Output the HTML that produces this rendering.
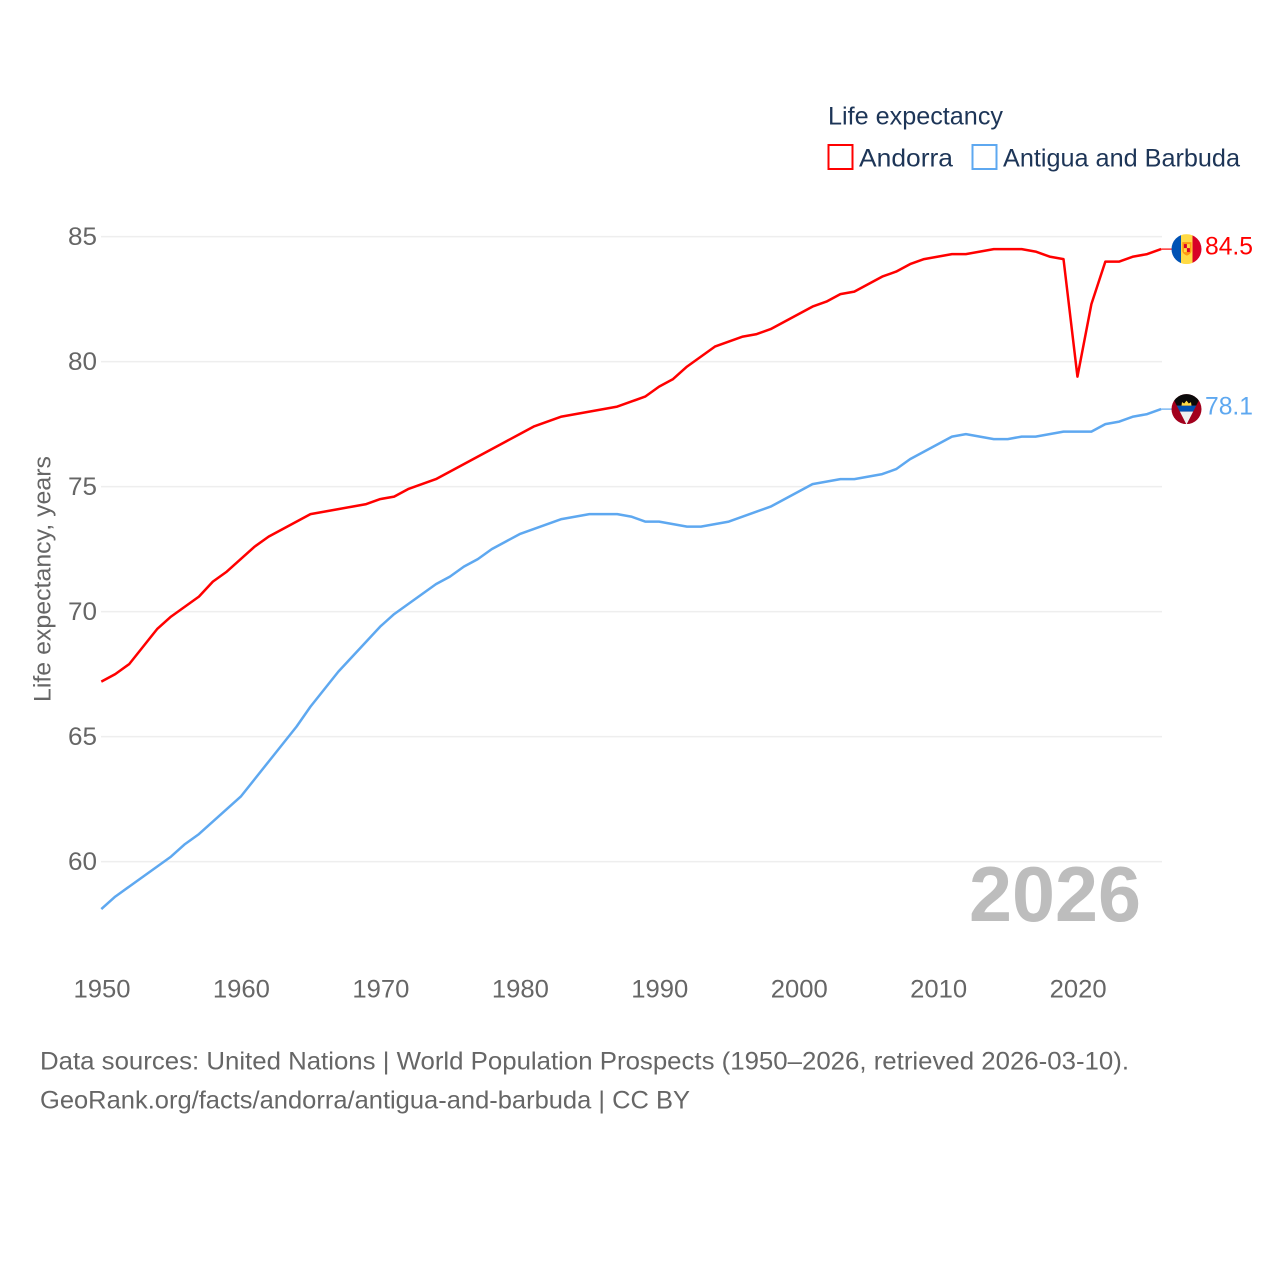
<!DOCTYPE html>
<html lang="en">
<head>
<meta charset="utf-8">
<title>Life expectancy: Andorra and Antigua and Barbuda</title>
<style>
html,body{margin:0;padding:0;background:#fff;}
svg{display:block;font-family:"Liberation Sans",sans-serif;}
</style>
</head>
<body>
<svg id="chart" xmlns="http://www.w3.org/2000/svg" width="1280" height="1280" viewBox="0 0 1280 1280">
  <rect x="0" y="0" width="1280" height="1280" fill="#fff"/>
  <g id="grid"></g>
  <g id="yticks"></g>
  <g id="xticks"></g>
  <text transform="translate(50.5,579) rotate(-90)" text-anchor="middle" font-size="24" fill="#666" textLength="246" lengthAdjust="spacingAndGlyphs">Life expectancy, years</text>
  <text x="969" y="921" font-size="78" font-weight="700" fill="#bdbdbd" textLength="172" lengthAdjust="spacingAndGlyphs">2026</text>
  <g id="series"></g>
  <g id="ends"></g>
  <g>
    <text x="828" y="124.5" font-size="25" fill="#1d3557" textLength="175" lengthAdjust="spacingAndGlyphs">Life expectancy</text>
    <rect x="828.5" y="145" width="24" height="24" fill="#fff" stroke="#ff0000" stroke-width="2"/>
    <text x="859" y="166.5" font-size="25" fill="#1d3557" textLength="94" lengthAdjust="spacingAndGlyphs">Andorra</text>
    <rect x="972.5" y="145" width="24" height="24" fill="#fff" stroke="#5ea8f0" stroke-width="2"/>
    <text x="1003" y="166.5" font-size="25" fill="#1d3557" textLength="237" lengthAdjust="spacingAndGlyphs">Antigua and Barbuda</text>
  </g>
  <text x="40" y="1069.5" font-size="25" fill="#666" textLength="1089" lengthAdjust="spacingAndGlyphs">Data sources: United Nations | World Population Prospects (1950–2026, retrieved 2026-03-10).</text>
  <text x="40" y="1108.5" font-size="25" fill="#666" textLength="650" lengthAdjust="spacingAndGlyphs">GeoRank.org/facts/andorra/antigua-and-barbuda | CC BY</text>
</svg>
<script>
const years = [1950,1951,1952,1953,1954,1955,1956,1957,1958,1959,1960,1961,1962,1963,1964,1965,1966,1967,1968,1969,1970,1971,1972,1973,1974,1975,1976,1977,1978,1979,1980,1981,1982,1983,1984,1985,1986,1987,1988,1989,1990,1991,1992,1993,1994,1995,1996,1997,1998,1999,2000,2001,2002,2003,2004,2005,2006,2007,2008,2009,2010,2011,2012,2013,2014,2015,2016,2017,2018,2019,2020,2021,2022,2023,2024,2025,2026];
const andorra = [67.2,67.5,67.9,68.6,69.3,69.8,70.2,70.6,71.2,71.6,72.1,72.6,73.0,73.3,73.6,73.9,74.0,74.1,74.2,74.3,74.5,74.6,74.9,75.1,75.3,75.6,75.9,76.2,76.5,76.8,77.1,77.4,77.6,77.8,77.9,78.0,78.1,78.2,78.4,78.6,79.0,79.3,79.8,80.2,80.6,80.8,81.0,81.1,81.3,81.6,81.9,82.2,82.4,82.7,82.8,83.1,83.4,83.6,83.9,84.1,84.2,84.3,84.3,84.4,84.5,84.5,84.5,84.4,84.2,84.1,79.4,82.3,84.0,84.0,84.2,84.3,84.5];
const antigua = [58.1,58.6,59.0,59.4,59.8,60.2,60.7,61.1,61.6,62.1,62.6,63.3,64.0,64.7,65.4,66.2,66.9,67.6,68.2,68.8,69.4,69.9,70.3,70.7,71.1,71.4,71.8,72.1,72.5,72.8,73.1,73.3,73.5,73.7,73.8,73.9,73.9,73.9,73.8,73.6,73.6,73.5,73.4,73.4,73.5,73.6,73.8,74.0,74.2,74.5,74.8,75.1,75.2,75.3,75.3,75.4,75.5,75.7,76.1,76.4,76.7,77.0,77.1,77.0,76.9,76.9,77.0,77.0,77.1,77.2,77.2,77.2,77.5,77.6,77.8,77.9,78.1];
const yTickValues = [60,65,70,75,80,85];
const xTickValues = [1950,1960,1970,1980,1990,2000,2010,2020];

const NS = 'http://www.w3.org/2000/svg';
const xScale = function (year) { return 101.3 + (year - 1950) * 13.945; };
const yScale = function (value) { return 236.6 + (85 - value) * 25; };
const make = function (tag, parent, props) {
  const node = document.createElementNS(NS, tag);
  Object.keys(props).forEach(function (k) { node.setAttribute(k, props[k]); });
  parent.appendChild(node);
  return node;
};

const grid = document.getElementById('grid');
const yticks = document.getElementById('yticks');
yTickValues.forEach(function (v) {
  const line = make('line', grid, {x1: 101, x2: 1162, y1: yScale(v), y2: yScale(v), stroke: '#eeeeee', 'stroke-width': 1.5});
  
  
  const label = make('text', yticks, {x: 97, y: yScale(v) + 8.2, 'text-anchor': 'end', 'font-size': 25, fill: '#666', textLength: 29, lengthAdjust: 'spacingAndGlyphs'});
  
  
  label.textContent = String(v);
});

const xticks = document.getElementById('xticks');
xTickValues.forEach(function (year) {
  const label = make('text', xticks, {x: xScale(year) + 0.7, y: 997.5, 'text-anchor': 'middle', 'font-size': 25, fill: '#666', textLength: 57, lengthAdjust: 'spacingAndGlyphs'});
  
  
  label.textContent = String(year);
});

const pathFor = function (values) {
  return values.map(function (v, i) {
    return (i ? 'L' : 'M') + xScale(years[i]).toFixed(2) + ' ' + yScale(v).toFixed(2);
  }).join(' ');
};

const seriesGroup = document.getElementById('series');
const endsGroup = document.getElementById('ends');

const andorraLine = make('path', seriesGroup, {d: pathFor(andorra), fill: 'none', stroke: '#ff0000', 'stroke-width': 2.5, 'stroke-linejoin': 'round'});



const antiguaLine = make('path', seriesGroup, {d: pathFor(antigua), fill: 'none', stroke: '#5ea8f0', 'stroke-width': 2.5, 'stroke-linejoin': 'round'});



/* End markers follow the last value of each series */
const lastAnd = andorra[andorra.length - 1];
const lastAnt = antigua[antigua.length - 1];
const endX = xScale(years[years.length - 1]);

const andLink = make('line', endsGroup, {x1: endX, x2: 1172, y1: yScale(lastAnd), y2: yScale(lastAnd), stroke: '#ff0000', 'stroke-width': 1.2});


const antLink = make('line', endsGroup, {x1: endX, x2: 1172, y1: yScale(lastAnt), y2: yScale(lastAnt), stroke: '#5ea8f0', 'stroke-width': 1.2});



const andFlag = make('g', endsGroup, {transform: 'translate(1186.5,' + yScale(lastAnd).toFixed(2) + ')'});


andFlag.innerHTML =
  '<clipPath id="clipAnd"><circle r="15"/></clipPath>' +
  '<g clip-path="url(#clipAnd)">' +
  '<rect x="-15" y="-15" width="9.5" height="30" fill="#0052b4"/>' +
  '<rect x="-5.5" y="-15" width="11.5" height="30" fill="#ffda44"/>' +
  '<rect x="6" y="-15" width="9" height="30" fill="#d80027"/>' +
  '<path d="M-4.2 -7H5V1.5Q5 4.5 0.4 6.5Q-4.2 4.5 -4.2 1.5Z" fill="#ff9811"/>' +
  '<rect x="-2.6" y="-5" width="6" height="8" fill="#ffda44"/>' +
  '<rect x="-2.6" y="-5" width="3" height="4" fill="#d80027"/>' +
  '<rect x="0.4" y="-1" width="3" height="4" fill="#d80027"/>' +
  '</g>';

const antFlag = make('g', endsGroup, {transform: 'translate(1186.5,' + yScale(lastAnt).toFixed(2) + ')'});


antFlag.innerHTML =
  '<clipPath id="clipAnt"><circle r="15"/></clipPath>' +
  '<clipPath id="clipAntV"><path d="M-15 -16H15V-10H13L0 15.5L-13 -10H-15Z"/></clipPath>' +
  '<g clip-path="url(#clipAnt)">' +
  '<rect x="-15" y="-15" width="30" height="30" fill="#a2001d"/>' +
  '<g clip-path="url(#clipAntV)">' +
  '<rect x="-15" y="-16" width="30" height="12.5" fill="#0a0a0a"/>' +
  '<rect x="-15" y="-3.5" width="30" height="6" fill="#0052b4"/>' +
  '<rect x="-15" y="2.5" width="30" height="13" fill="#f0f0f0"/>' +
  '</g>' +
  '<path d="M-5 -3.5L-4.5 -7L-2.3 -5.6L0 -8.5L2.3 -5.6L4.5 -7L5 -3.5Z" fill="#ffda44"/>' +
  '</g>';

const andLabel = make('text', endsGroup, {x: 1205, y: yScale(lastAnd) + 5.5, 'font-size': 25, fill: '#ff0000', textLength: 48, lengthAdjust: 'spacingAndGlyphs'});


andLabel.textContent = lastAnd.toFixed(1);

const antLabel = make('text', endsGroup, {x: 1205, y: yScale(lastAnt) + 5.5, 'font-size': 25, fill: '#5ea8f0', textLength: 48, lengthAdjust: 'spacingAndGlyphs'});


antLabel.textContent = lastAnt.toFixed(1);
</script>
</body>
</html>
